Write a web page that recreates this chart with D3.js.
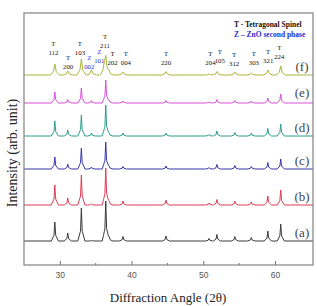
<!DOCTYPE html>
<html>
<head>
<meta charset="utf-8">
<script src="https://cdn.jsdelivr.net/npm/d3@7"></script>
<style>
  html, body { margin: 0; padding: 0; background: #fff; }
  svg { display: block; }
</style>
</head>
<body>
<svg class="xrd-chart" width="317" height="306"></svg>
<script>
// samples, bottom to top
const sampleNames = ['(a)', '(b)', '(c)', '(d)', '(e)', '(f)'];
const sampleOffsets = [24, 60, 96, 129, 162, 190];
const sampleColors = ['#3a3a3a', '#dc3c55', '#3636a8', '#2e9c8c', '#d94fd9', '#a9b63c'];

// peak positions (2θ) and heights per sample (arb. unit)
const peakAngles = [29.3, 31.1, 33.0, 34.4, 36.2, 36.4, 36.9, 38.8, 44.8, 50.8, 51.9, 54.4, 56.7, 59.0, 60.8];
const heightsA = [19, 8, 33, 0.5, 0, 40, 4, 4.5, 5, 2.5, 6.5, 4.5, 3.5, 10, 17];
const heightsB = [20, 7, 30, 1, 0, 37, 4, 4, 5, 2, 5.5, 4, 3, 9, 15];
const heightsC = [12, 5, 21, 2, 0, 27, 3, 2.5, 3, 1.5, 4.5, 3.5, 2.5, 6.5, 10];
const heightsD = [15, 6, 21, 3, 0, 31, 3, 3, 3, 1.5, 5, 3.5, 3, 7.5, 12];
const heightsE = [11, 3.5, 15, 2.5, 0, 23, 3, 2, 2.5, 1, 3.5, 2.5, 2, 5, 9];
const heightsF = [11, 4, 16, 5, 8, 17, 3, 3, 3.5, 1, 3.5, 3, 2, 5, 9];
const sampleHeights = [heightsA, heightsB, heightsC, heightsD, heightsE, heightsF];

// peak index labels
const labelPhase = ['T', 'T', 'T', 'Z', 'Z', 'T', 'T', 'T', 'T', 'T', 'T', 'T', 'T', 'T', 'T'];
const labelHkl = ['112', '200', '103', '002', '101', '211', '202', '004', '220', '204', '105', '312', '303', '321', '224'];
const labelAngles = [29.1, 31.15, 32.8, 34.1, 35.5, 36.3, 37.35, 39.2, 44.8, 51.0, 52.3, 54.3, 57.05, 59.05, 60.6];
const labelTop = [43, 57, 43, 57, 51, 36, 53, 53, 53, 53, 51, 54, 53, 51, 47];

const xTicks = [30, 40, 50, 60];
const xMinorTicks = [35, 45, 55];

const chart = d3.select('.xrd-chart');
const plotLeft = 24, plotRight = 313, plotTop = 13, plotBottom = 265;

const xScale = d3.scaleLinear().domain([25, 65.3]).range([plotLeft, plotRight]);
const yScale = d3.scaleLinear().domain([0, 252]).range([plotBottom, plotTop]);

// each peak drawn as a narrow profile, summed where they overlap
const peakShape = (center, h, wide) => {
  const w0 = wide ? 0.65 : 0.5;
  const w1 = wide ? 0.2 : 0.12;
  return [[center - w0, 0], [center - w1, h * 0.3], [center, h], [center + w1, h * 0.3], [center + w0, 0]];
};
const shapeAt = (pts, x) => {
  if (x <= pts[0][0] || x >= pts[pts.length - 1][0]) return 0;
  for (let i = 1; i < pts.length; i++) {
    if (x <= pts[i][0]) {
      const t = (x - pts[i - 1][0]) / (pts[i][0] - pts[i - 1][0]);
      return pts[i - 1][1] + t * (pts[i][1] - pts[i - 1][1]);
    }
  }
  return 0;
};

const traceData = sampleHeights.map((hs, s) => {
  const shapes = peakAngles.map((a, i) => peakShape(a, hs[i], s === 5));
  let xs = [25, 65.3];
  shapes.forEach(p => p.forEach(q => xs.push(q[0])));
  xs = Array.from(new Set(xs)).sort((a, b) => a - b);
  return xs.map(x => [x, sampleOffsets[s] + d3.sum(shapes, p => shapeAt(p, x))]);
});

const line = d3.line()
  .x(d => xScale(d[0]))
  .y(d => yScale(d[1]));

/*
 ** Traces
 */
chart.append('g')
  .selectAll('path.trace')
  .data(traceData)
  .enter()
  .append('path')
  .attr('class', 'trace')
  .attr('d', line)
  .attr('fill', 'none')
  .attr('stroke', (d, i) => sampleColors[i])
  .attr('stroke-width', 1)
  .attr('stroke-linejoin', 'round');

chart.append('g')
  .selectAll('text.sample')
  .data(sampleNames)
  .enter()
  .append('text')
  .attr('class', 'sample')
  .text(d => d)
  .attr('x', 302)
  .attr('y', (d, i) => yScale(sampleOffsets[i] + (i === 4 ? 10.5 : 8.5)))
  .attr('text-anchor', 'middle')
  .attr('dominant-baseline', 'central')
  .attr('font-family', 'Liberation Serif, serif')
  .attr('font-size', 13)
  .attr('fill', '#444');

/*
 ** Frame and x-axis
 */
chart.append('rect')
  .attr('x', plotLeft)
  .attr('y', plotTop)
  .attr('width', plotRight - plotLeft)
  .attr('height', plotBottom - plotTop)
  .attr('fill', 'none')
  .attr('stroke', '#8a8a8a')
  .attr('stroke-width', 1.3);

const xAxis = chart.append('g')
  .attr('transform', `translate(0, ${plotBottom})`)
  .call(d3.axisBottom(xScale).tickValues(xTicks).tickSizeInner(-4).tickSizeOuter(0).tickPadding(7));
xAxis.select('.domain').remove();
xAxis.selectAll('line').attr('stroke', '#777');
xAxis.selectAll('text')
  .attr('font-family', 'Liberation Sans, Arial, sans-serif')
  .attr('font-size', 8.5)
  .attr('fill', '#555');

chart.append('g')
  .selectAll('line.minor')
  .data(xMinorTicks)
  .enter()
  .append('line')
  .attr('class', 'minor')
  .attr('x1', d => xScale(d))
  .attr('x2', d => xScale(d))
  .attr('y1', plotBottom)
  .attr('y2', plotBottom - 2)
  .attr('stroke', '#777');

chart.append('text')
  .text('Diffraction Angle (2θ)')
  .attr('x', 168)
  .attr('y', 297)
  .attr('text-anchor', 'middle')
  .attr('dominant-baseline', 'central')
  .attr('font-family', 'Liberation Serif, serif')
  .attr('font-size', 13)
  .attr('fill', '#222');

chart.append('text')
  .text('Intensity (arb. unit)')
  .attr('transform', 'translate(12, 153) rotate(-90)')
  .attr('text-anchor', 'middle')
  .attr('dominant-baseline', 'central')
  .attr('font-family', 'Liberation Serif, serif')
  .attr('font-size', 14)
  .attr('fill', '#222');

/*
 ** Peak labels
 */
const labelGroup = chart.append('g')
  .selectAll('g.peak-label')
  .data(labelHkl)
  .enter()
  .append('g')
  .attr('class', 'peak-label')
  .attr('transform', (d, i) => `translate(${xScale(labelAngles[i])}, ${labelTop[i]})`)
  .attr('font-family', 'Liberation Serif, serif')
  .attr('font-size', 6.8)
  .attr('text-anchor', 'middle')
  .attr('fill', (d, i) => labelPhase[i] === 'Z' ? '#2b2bd0' : '#111');

labelGroup.append('text')
  .text((d, i) => labelPhase[i])
  .attr('dominant-baseline', 'central');

labelGroup.append('text')
  .text(d => d)
  .attr('y', 9)
  .attr('dominant-baseline', 'central');

/*
 ** Legend
 */
chart.append('text')
  .text('T - Tetragonal Spinel')
  .attr('x', 234)
  .attr('y', 24)
  .attr('dominant-baseline', 'central')
  .attr('font-family', 'Liberation Serif, serif')
  .attr('font-weight', 'bold')
  .attr('font-size', 7.5)
  .attr('fill', '#111');

chart.append('text')
  .text('Z – ZnO second phase')
  .attr('x', 234)
  .attr('y', 34)
  .attr('dominant-baseline', 'central')
  .attr('font-family', 'Liberation Serif, serif')
  .attr('font-weight', 'bold')
  .attr('font-size', 7.5)
  .attr('fill', '#2b2bd0');
</script>
</body>
</html>
